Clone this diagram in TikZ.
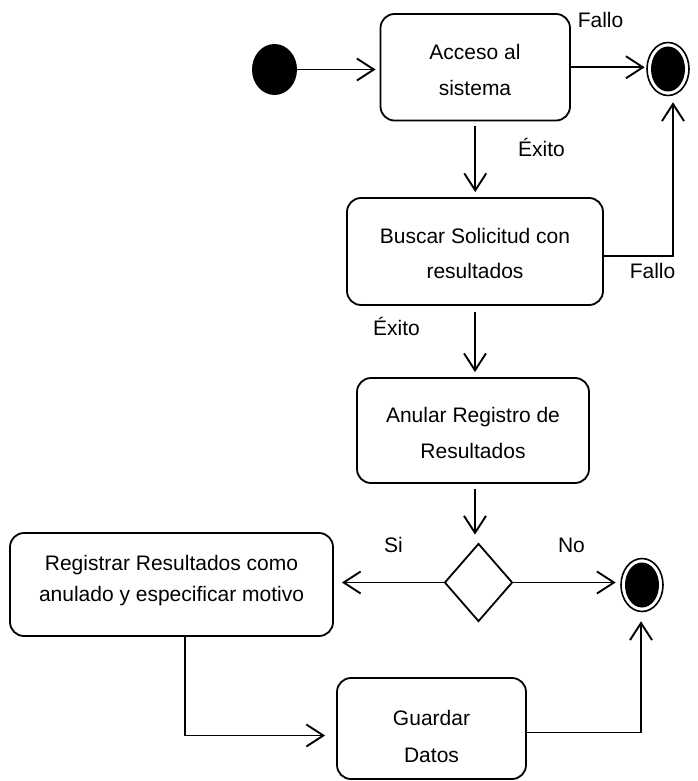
\documentclass[tikz,border=0pt]{standalone}
\usepackage{fontspec}
\setmainfont{Liberation Sans}
\usetikzlibrary{shapes.geometric,arrows.meta}

\begin{document}
\begin{tikzpicture}[x=1pt,y=-1pt,
  every node/.style={font=\fontsize{21}{25}\selectfont},
  stepbox/.style={draw,line width=1.8pt,rounded corners=14pt,inner sep=0pt},
  txt/.style={anchor=base,inner sep=0pt},
  flow/.style={line width=1.9pt,-{Straight Barb[length=17pt,width=22pt]}},
  initial/.style={ellipse,fill=black,inner sep=0pt,minimum width=45pt,minimum height=51pt},
  final/.style={ellipse,draw,line width=1.6pt,inner sep=0pt,
    minimum width=42pt,minimum height=53pt,
    path picture={\fill[black] (path picture bounding box.center) ellipse (17pt and 22.5pt);}},
  choice/.style={diamond,draw,line width=1.8pt,inner sep=0pt,aspect=0.87,
    minimum width=68pt,minimum height=78pt}]

\useasboundingbox (0,0) rectangle (697,781);

% states
\node[initial] (start) at (274.5,69.5) {};
\node[final] (end1) at (668,69) {};
\node[final] (end2) at (642,585) {};

% activities
\node[stepbox,minimum width=189.5pt,minimum height=106.5pt] (acc) at (475.25,67.25) {};
\node[txt] (acc1) at (475,60) {Acceso al};
\node[txt] (acc2) at (475,95.5) {sistema};

\node[stepbox,minimum width=256pt,minimum height=107pt] (busc) at (475,251.5) {};
\node[txt] (busc1) at (475,243) {Buscar Solicitud con};
\node[txt] (busc2) at (475,278) {resultados};

\node[stepbox,minimum width=232pt,minimum height=105pt] (anul) at (473,430.5) {};
\node[txt] (anul1) at (473,422.7) {Anular Registro de};
\node[txt] (anul2) at (473,458) {Resultados};

\node[choice] (dec) at (478.5,582.5) {};

\node[stepbox,minimum width=323pt,minimum height=103pt] (reg) at (171.5,584.5) {};
\node[txt] (reg1) at (171.5,570) {Registrar Resultados como};
\node[txt] (reg2) at (171.5,601.7) {anulado y especificar motivo};

\node[stepbox,minimum width=189pt,minimum height=101pt] (guard) at (431.5,728.5) {};
\node[txt] (guard1) at (431.5,725) {Guardar};
\node[txt] (guard2) at (431.5,762) {Datos};

% transition labels
\node[txt] (lfallo1) at (600.5,28) {Fallo};
\node[txt] (lexito1) at (541.5,157) {Éxito};
\node[txt] (lfallo2) at (652.5,278) {Fallo};
\node[txt] (lexito2) at (396.5,335) {Éxito};
\node[txt] (lsi) at (393.5,552) {Si};
\node[txt] (lno) at (571.5,552) {No};

% transitions
\draw[flow,shorten >=4pt] (start.east) -- (start.east -| acc.west);
\draw[flow,shorten >=1.5pt] (acc.east) -- (acc.east -| end1.west);
\draw[flow,shorten <=4.5pt,shorten >=5pt] (acc.south) -- (acc.south |- busc.north);
\draw[flow,shorten >=6pt] ([yshift=-4.5pt]busc.east) -| ([xshift=5pt]end1.south);
\draw[flow,shorten <=6pt,shorten >=5pt] (busc.south) -- (busc.south |- anul.north);
\draw[flow,shorten <=5pt,shorten >=8pt] ([xshift=2pt]anul.south) -- ([xshift=2pt]anul.south |- dec.north);
\draw[flow,shorten >=8pt] (dec.west) -- (dec.west -| reg.east);
\draw[flow,shorten >=4.5pt] (dec.east) -- (dec.east -| end2.west);
\draw[flow,shorten >=11pt] ([xshift=13.5pt]reg.south) |- ([yshift=-7pt]guard.west);
\draw[flow,shorten >=9pt] ([yshift=-4pt]guard.east) -| ([xshift=-1pt]end2.south);

\end{tikzpicture}
\end{document}
